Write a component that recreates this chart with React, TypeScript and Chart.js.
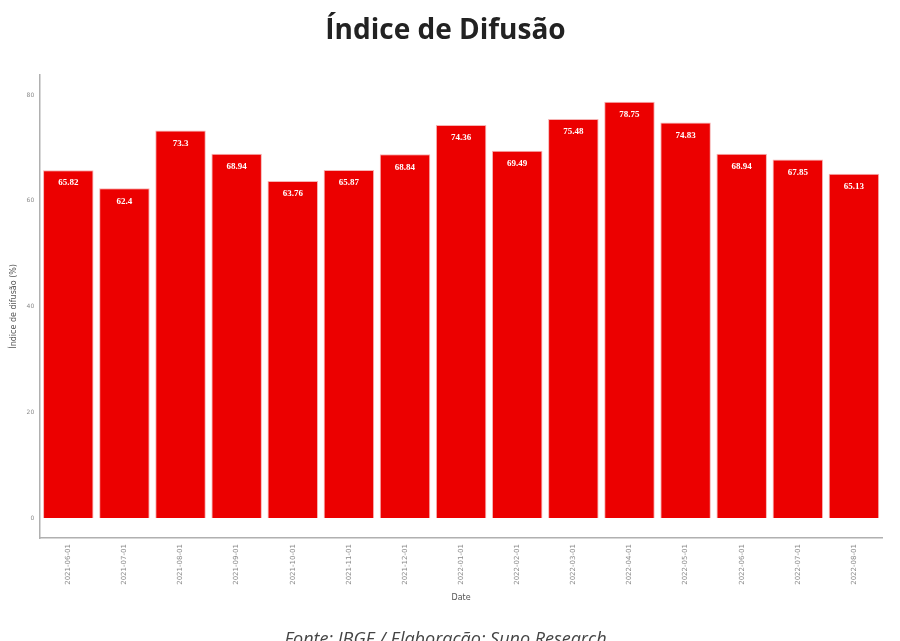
import React, { useEffect, useRef } from 'react';
import { Chart, registerables } from 'chart.js';

Chart.register(...registerables);

// monthly dates (x axis)
const dates = [
  '2021-06-01', '2021-07-01', '2021-08-01', '2021-09-01', '2021-10-01',
  '2021-11-01', '2021-12-01', '2022-01-01', '2022-02-01', '2022-03-01',
  '2022-04-01', '2022-05-01', '2022-06-01', '2022-07-01', '2022-08-01',
];

// índice de difusão (%)
const difusao = [
  65.82, 62.4, 73.3, 68.94, 63.76,
  65.87, 68.84, 74.36, 69.49, 75.48,
  78.75, 74.83, 68.94, 67.85, 65.13,
];

const yTicks = [0, 20, 40, 60, 80];

const barLabels = {
  id: 'barLabels',
  afterDatasetsDraw(chart: Chart) {
    const ctx = chart.ctx;
    const meta = chart.getDatasetMeta(0);
    ctx.save();
    ctx.fillStyle = '#ffffff';
    ctx.font = 'bold 9px "Liberation Serif"';
    ctx.textAlign = 'center';
    ctx.textBaseline = 'middle';
    meta.data.forEach((bar: any, i: number) => {
      ctx.fillText(String(difusao[i]), bar.x, bar.y + 13);
    });
    ctx.restore();
  },
};

const App: React.FC = () => {
  const canvasRef = useRef<HTMLCanvasElement>(null);
  const chartRef = useRef<Chart | null>(null);

  useEffect(() => {
    document.body.style.margin = '0';
    if (!canvasRef.current) return;
    if (chartRef.current) chartRef.current.destroy();

    chartRef.current = new Chart(canvasRef.current, {
      type: 'bar',
      data: {
        labels: dates,
        datasets: [{
          data: difusao,
          backgroundColor: '#ec0000',
          borderColor: '#f6b4b4',
          borderWidth: 1,
          barPercentage: 0.9,
          categoryPercentage: 1,
        }],
      },
      options: {
        responsive: false,
        animation: false,
        devicePixelRatio: 1,
        layout: { padding: { left: 9, right: 18, top: 0, bottom: 0 } },
        scales: {
          x: {
            grid: { display: false, drawTicks: true, tickLength: 4, color: '#b0b0b0' },
            border: { display: true, color: '#b0b0b0', width: 1.5 },
            ticks: {
              maxRotation: 90,
              minRotation: 90,
              autoSkip: false,
              padding: 2,
              color: '#8a8a8a',
              font: { size: 7, family: 'DejaVu Sans' },
            },
            title: {
              display: true,
              text: 'Date',
              color: '#555',
              font: { size: 8, family: 'DejaVu Sans' },
              padding: { top: 6, bottom: 0 },
            },
          },
          y: {
            min: -3.8,
            max: 83.9,
            afterBuildTicks: (axis: any) => {
              axis.ticks = yTicks.map((v) => ({ value: v }));
            },
            grid: { display: false, drawTicks: true, tickLength: 4, color: '#b0b0b0' },
            border: { display: true, color: '#b0b0b0', width: 1.5 },
            ticks: {
              padding: 2,
              color: '#8a8a8a',
              font: { size: 6, family: 'DejaVu Sans' },
            },
            title: {
              display: true,
              text: 'Índice de difusão (%)',
              color: '#555',
              font: { size: 8, family: 'DejaVu Sans' },
              padding: { top: 0, bottom: 6 },
            },
          },
        },
        plugins: {
          legend: { display: false },
          tooltip: { enabled: false },
          title: {
            display: true,
            text: 'Índice de Difusão',
            color: '#222',
            font: { size: 28, weight: 'bold', family: 'Open Sans' },
            padding: { top: 14, bottom: 27 },
          },
          subtitle: {
            display: true,
            position: 'bottom',
            text: 'Fonte: IBGE / Elaboração: Suno Research',
            color: '#444',
            font: { size: 18, style: 'italic', family: 'Open Sans' },
            padding: { top: 27, bottom: 1 },
          },
        },
      },
      plugins: [barLabels],
    });

    return () => {
      if (chartRef.current) {
        chartRef.current.destroy();
        chartRef.current = null;
      }
    };
  }, []);

  return (
    <div style={{ position: 'relative', width: 900, height: 641, overflow: 'hidden', background: '#fff' }}>
      <canvas ref={canvasRef} width={900} height={652} style={{ display: 'block' }} />
    </div>
  );
};

export default App;
